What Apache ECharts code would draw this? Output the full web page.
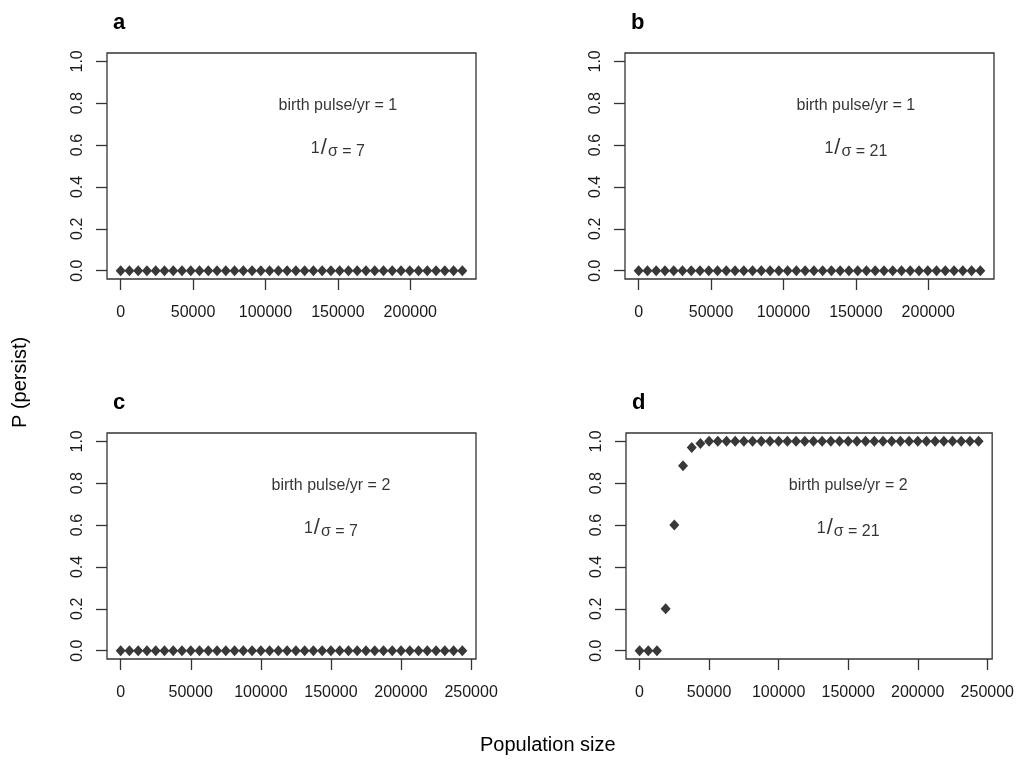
<!DOCTYPE html>
<html>
<head>
<meta charset="utf-8">
<script src="https://cdn.jsdelivr.net/npm/echarts@6/dist/echarts.min.js"></script>
<style>
html,body{margin:0;padding:0;background:#fff;}
#main{width:1017px;height:760px;}
</style>
</head>
<body>
<div id="main"></div>
<script>
// ---- data ----
var popAB = [0, 6050, 12100, 18150, 24200, 30250, 36300, 42350, 48400, 54450,
  60500, 66550, 72600, 78650, 84700, 90750, 96800, 102850, 108900, 114950,
  121000, 127050, 133100, 139150, 145200, 151250, 157300, 163350, 169400, 175450,
  181500, 187550, 193600, 199650, 205700, 211750, 217800, 223850, 229900, 235950];
var popCD = [0, 6250, 12500, 18750, 25000, 31250, 37500, 43750, 50000, 56250,
  62500, 68750, 75000, 81250, 87500, 93750, 100000, 106250, 112500, 118750,
  125000, 131250, 137500, 143750, 150000, 156250, 162500, 168750, 175000, 181250,
  187500, 193750, 200000, 206250, 212500, 218750, 225000, 231250, 237500, 243750];
var pA = [0,0,0,0,0,0,0,0,0,0, 0,0,0,0,0,0,0,0,0,0, 0,0,0,0,0,0,0,0,0,0, 0,0,0,0,0,0,0,0,0,0];
var pB = [0,0,0,0,0,0,0,0,0,0, 0,0,0,0,0,0,0,0,0,0, 0,0,0,0,0,0,0,0,0,0, 0,0,0,0,0,0,0,0,0,0];
var pC = [0,0,0,0,0,0,0,0,0,0, 0,0,0,0,0,0,0,0,0,0, 0,0,0,0,0,0,0,0,0,0, 0,0,0,0,0,0,0,0,0,0];
var pD = [0,0,0,0.2,0.6,0.884,0.971,0.99,1,1, 1,1,1,1,1,1,1,1,1,1, 1,1,1,1,1,1,1,1,1,1, 1,1,1,1,1,1,1,1,1,1];
var xTicksAB = [0, 50000, 100000, 150000, 200000];
var xTicksCD = [0, 50000, 100000, 150000, 200000, 250000];
var yTicks = [0, 0.2, 0.4, 0.6, 0.8, 1.0];
var panelLetters = ['a', 'b', 'c', 'd'];
var pulses = [1, 1, 2, 2];
var invSigma = [7, 21, 7, 21];
var annotX = 150000, annotY1 = 0.79, annotY2 = 0.585;
var xTitle = 'Population size';
var yTitle = 'P (persist)';

// ---- chart ----
var FONT = '"Liberation Sans", Arial, sans-serif';
var INK = '#333333';
var DOT = '#383838';
var grids = [
  {left: 107, top: 53, width: 369, height: 226},
  {left: 625, top: 53, width: 369, height: 226},
  {left: 107, top: 433, width: 369, height: 226},
  {left: 626, top: 433, width: 368, height: 226}
];
var xs = [popAB, popAB, popCD, popCD];
var ys = [pA, pB, pC, pD];
var xt = [xTicksAB, xTicksAB, xTicksCD, xTicksCD];

function ext(arr) {
  var mn = Math.min.apply(null, arr), mx = Math.max.apply(null, arr);
  var r = mx - mn;
  return [mn - 0.04 * r, mx + 0.04 * r];
}

var option = {
  backgroundColor: '#fff',
  animation: false,
  textStyle: {fontFamily: FONT},
  grid: grids.map(function (g) {
    return Object.assign({show: true, borderColor: INK, borderWidth: 1.3, backgroundColor: 'transparent'}, g);
  }),
  xAxis: [],
  yAxis: [],
  series: [],
  graphic: []
};

for (var i = 0; i < 4; i++) {
  var e = ext(xs[i]);
  option.xAxis.push({
    type: 'value', gridIndex: i, min: e[0], max: e[1], position: 'bottom',
    splitLine: {show: false},
    axisLine: {show: false, onZero: false},
    axisTick: {show: true, length: 11, inside: false, customValues: xt[i], lineStyle: {color: INK, width: 1.3}},
    axisLabel: {show: true, customValues: xt[i], margin: 26, fontSize: 16, color: '#1a1a1a', fontFamily: FONT,
      formatter: function (v) { return String(Math.round(v)); }}
  });
  option.yAxis.push({
    type: 'value', gridIndex: i, min: -0.04, max: 1.04, position: 'left',
    splitLine: {show: false},
    axisLine: {show: false, onZero: false},
    axisTick: {show: true, length: 11, inside: false, customValues: yTicks, lineStyle: {color: INK, width: 1.3}},
    axisLabel: {show: true, customValues: yTicks, rotate: 90, margin: 21, fontSize: 16, color: '#1a1a1a', fontFamily: FONT,
      formatter: function (v) { return (Math.round(v * 10) / 10).toFixed(1); }}
  });
  option.series.push({
    type: 'scatter', xAxisIndex: i, yAxisIndex: i,
    symbol: 'diamond', symbolSize: [10, 11],
    itemStyle: {color: DOT, opacity: 1},
    data: xs[i].map(function (x, k) { return [x, ys[i][k]]; }),
    z: 3
  });
  option.series.push({
    type: 'scatter', xAxisIndex: i, yAxisIndex: i,
    symbolSize: 1, itemStyle: {color: 'rgba(0,0,0,0)'},
    silent: true,
    label: {
      show: true, position: 'inside', color: '#000', fontFamily: FONT, fontSize: 16,
      formatter: function (p) { return p.data[2]; },
      rich: {
        n: {fontSize: 16, fontFamily: FONT, color: '#000'},
        s: {fontSize: 22, fontFamily: FONT, color: '#000', padding: [0, 1, 0, 1]},
        g: {fontSize: 16, fontFamily: FONT, color: '#000', padding: [6, 0, 0, 0]}
      }
    },
    data: [
      [annotX, annotY1, '{n|birth pulse/yr = ' + pulses[i] + '}'],
      [annotX, annotY2, '{n|1}{s|/}{g|σ = ' + invSigma[i] + '}']
    ],
    z: 4
  });
  option.graphic.push({
    type: 'text', left: grids[i].left + 6, top: grids[i].top - 41,
    style: {text: panelLetters[i], font: 'bold 22px ' + FONT, fill: '#000'}
  });
}

option.graphic.push({
  type: 'text', left: 480, top: 735,
  style: {text: xTitle, font: '20px ' + FONT, fill: '#000'}
});
option.graphic.push({
  type: 'text', rotation: Math.PI / 2, x: 10, y: 428,
  style: {text: yTitle, font: '20px ' + FONT, fill: '#000'}
});

var chart = echarts.init(document.getElementById('main'), null, {renderer: 'canvas'});
chart.setOption(option);
</script>
</body>
</html>
